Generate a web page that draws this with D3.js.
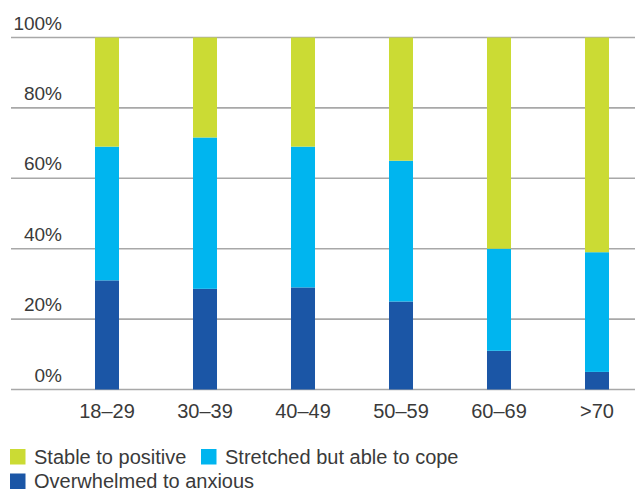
<!DOCTYPE html>
<html>
<head>
<meta charset="utf-8">
<script src="https://cdn.jsdelivr.net/npm/d3@7"></script>
<style>
  html, body { margin: 0; padding: 0; background: #fff; }
  svg { display: block; font-family: "Liberation Sans", Arial, sans-serif; }
</style>
</head>
<body>
<svg id="chart" width="635" height="493"></svg>
<script>
// Age groups along the x axis
const categories = ["18–29", "30–39", "40–49", "50–59", "60–69", ">70"];

// Share of respondents (%) in each group, stacked bottom to top
const overwhelmed = [31, 28.6, 29, 25, 11, 5];
const stretched   = [38, 43, 40, 40, 29, 34];
const stable      = [31, 28.4, 31, 35, 60, 61];

const yTicks = [0, 20, 40, 60, 80, 100];

const seriesNames = ["Overwhelmed to anxious", "Stretched but able to cope", "Stable to positive"];
const seriesColors = ["#1b56a6", "#00b5ef", "#cbdb34"];

const rows = categories.map((c, i) => ({
  cat: c,
  "Overwhelmed to anxious": overwhelmed[i],
  "Stretched but able to cope": stretched[i],
  "Stable to positive": stable[i]
}));

const svg = d3.select("#chart");

const x = d3.scaleBand()
  .domain(categories)
  .range([58, 646])
  .paddingInner(0.755)
  .paddingOuter(0.3775);

const y = d3.scaleLinear().domain([0, 100]).range([389.5, 37.5]);

// Horizontal gridlines
svg.append("g")
  .selectAll("line")
  .data(yTicks)
  .join("line")
  .attr("x1", 11)
  .attr("x2", 635)
  .attr("y1", d => y(d))
  .attr("y2", d => y(d))
  .attr("stroke", "#a8a8a8")
  .attr("stroke-width", 1.6);

// Y tick labels sit just above their gridlines
svg.append("g")
  .selectAll("text")
  .data(yTicks)
  .join("text")
  .attr("x", 62)
  .attr("y", d => y(d) - 8)
  .attr("text-anchor", "end")
  .attr("font-size", 19)
  .attr("fill", "#3a3a3a")
  .text(d => d + "%");

// Stacked bars
const stack = d3.stack().keys(seriesNames);
const layers = stack(rows);

svg.append("g")
  .selectAll("g")
  .data(layers)
  .join("g")
  .attr("fill", (d, i) => seriesColors[i])
  .selectAll("rect")
  .data(d => d)
  .join("rect")
  .attr("x", d => x(d.data.cat))
  .attr("width", x.bandwidth())
  .attr("y", d => y(d[1]))
  .attr("height", d => y(d[0]) - y(d[1]));

// Category labels
svg.append("g")
  .selectAll("text")
  .data(categories)
  .join("text")
  .attr("x", d => x(d) + x.bandwidth() / 2)
  .attr("y", 418)
  .attr("text-anchor", "middle")
  .attr("font-size", 20)
  .attr("fill", "#3a3a3a")
  .text(d => d);

// Legend
const legendItems = [
  { name: "Stable to positive", color: seriesColors[2], x: 10, y: 449 },
  { name: "Stretched but able to cope", color: seriesColors[1], x: 201, y: 449 },
  { name: "Overwhelmed to anxious", color: seriesColors[0], x: 10, y: 473.5 }
];

const lg = svg.append("g")
  .selectAll("g")
  .data(legendItems)
  .join("g")
  .attr("transform", d => `translate(${d.x},${d.y})`);

lg.append("rect")
  .attr("width", 15.5)
  .attr("height", 15.5)
  .attr("fill", d => d.color);

lg.append("text")
  .attr("x", 24)
  .attr("y", 14.5)
  .attr("font-size", 20)
  .attr("fill", "#3a3a3a")
  .text(d => d.name);
</script>
</body>
</html>
